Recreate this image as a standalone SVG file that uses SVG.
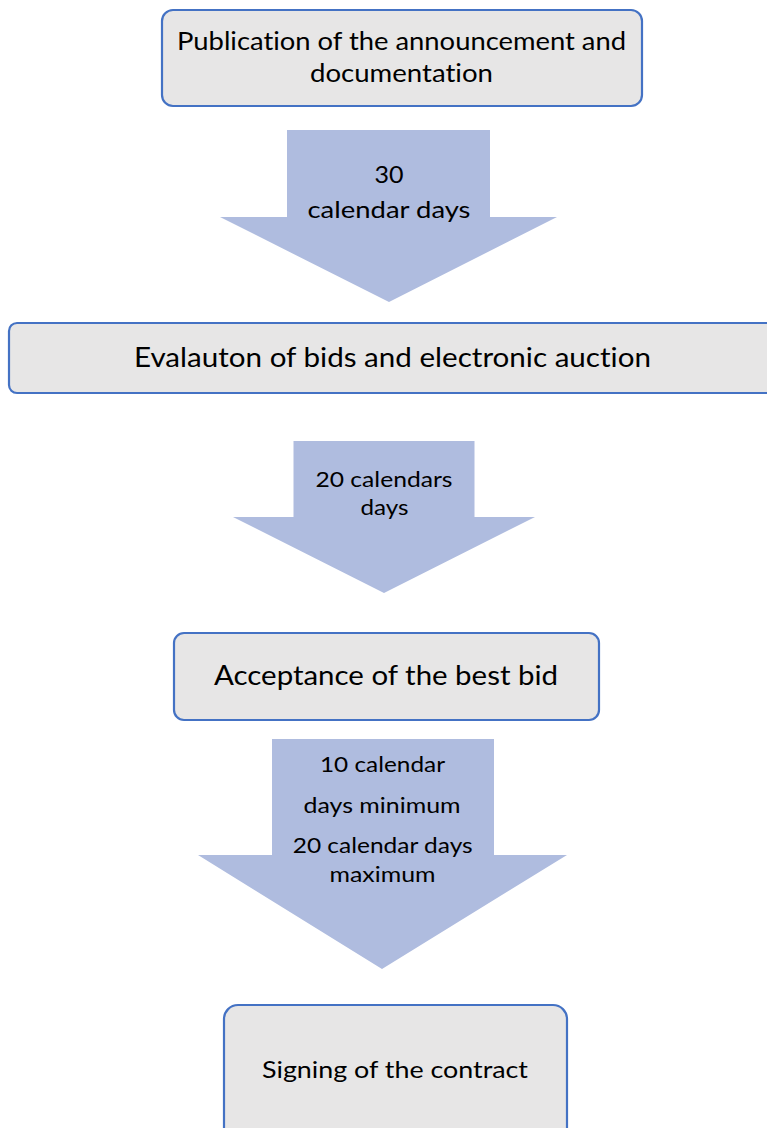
<svg xmlns="http://www.w3.org/2000/svg" width="767" height="1128" viewBox="0 0 767 1128">
<style>
.box{fill:#E7E6E6;stroke:#4472C4;stroke-width:2.2}
.arr{fill:#AFBCDF}
.t{font-family:Lato,"Open Sans","DejaVu Sans",sans-serif;fill:#000;text-anchor:middle;font-variant-ligatures:none;font-feature-settings:"liga" 0,"clig" 0}
</style>
<rect width="767" height="1128" fill="#fff"/>
<g id="connectors">
<g id="arrow1">
<polygon class="arr" points="287,130 490,130 490,217 557,217 389,302 220,217 287,217"/>
<text class="t" x="389" y="183" font-size="24" textLength="29" lengthAdjust="spacingAndGlyphs">30</text>
<text class="t" x="389" y="218" font-size="24" textLength="163" lengthAdjust="spacingAndGlyphs">calendar days</text>
</g>
<g id="arrow2">
<polygon class="arr" points="293.5,441 474.5,441 474.5,517 535,517 384,593 233,517 293.5,517"/>
<text class="t" x="384" y="487" font-size="21" textLength="137" lengthAdjust="spacingAndGlyphs">20 calendars</text>
<text class="t" x="384.5" y="515" font-size="21" textLength="48" lengthAdjust="spacingAndGlyphs">days</text>
</g>
<g id="arrow3">
<polygon class="arr" points="272,739 494,739 494,855 567,855 382,969 198,855 272,855"/>
<text class="t" x="382.5" y="772" font-size="21" textLength="125" lengthAdjust="spacingAndGlyphs">10 calendar</text>
<text class="t" x="382" y="813" font-size="21" textLength="157" lengthAdjust="spacingAndGlyphs">days minimum</text>
<text class="t" x="382.7" y="853" font-size="21" textLength="180" lengthAdjust="spacingAndGlyphs">20 calendar days</text>
<text class="t" x="382.5" y="882" font-size="21" textLength="106" lengthAdjust="spacingAndGlyphs">maximum</text>
</g>
</g>
<g id="node1">
<rect class="box" x="162" y="10" width="480" height="96" rx="11"/>
<text class="t" x="401.5" y="50" font-size="25.5" textLength="449" lengthAdjust="spacingAndGlyphs">Publication of the announcement and</text>
<text class="t" x="401.5" y="82" font-size="25.5" textLength="183" lengthAdjust="spacingAndGlyphs">documentation</text>
</g>
<g id="node2">
<rect class="box" x="9" y="323" width="780" height="70" rx="8"/>
<text class="t" x="392.5" y="367" font-size="27" textLength="517" lengthAdjust="spacingAndGlyphs">Evalauton of bids and electronic auction</text>
</g>
<g id="node3">
<rect class="box" x="174" y="633" width="425" height="87" rx="10"/>
<text class="t" x="386" y="685" font-size="26" textLength="344" lengthAdjust="spacingAndGlyphs">Acceptance of the best bid</text>
</g>
<g id="node4">
<rect class="box" x="224" y="1005" width="343" height="140" rx="14"/>
<text class="t" x="395" y="1078" font-size="23.5" textLength="266" lengthAdjust="spacingAndGlyphs">Signing of the contract</text>
</g>
</svg>
